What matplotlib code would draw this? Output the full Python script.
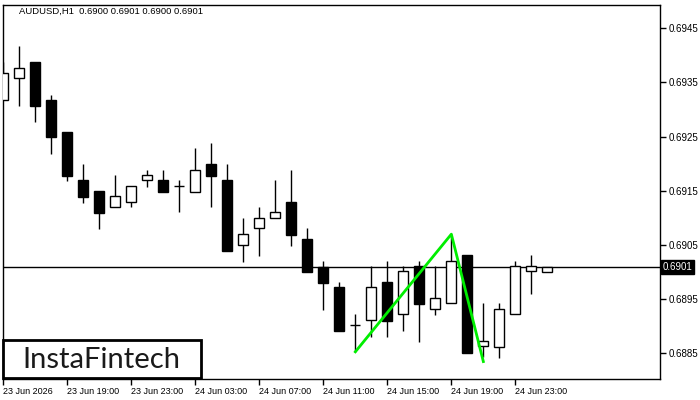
import matplotlib
matplotlib.use("Agg")
import matplotlib.pyplot as plt
from matplotlib.patches import Rectangle

# ____________________ data ____________________ #

# hourly candles, starting 23 Jun 15:00
opens = [0.69318, 0.69358, 0.69388, 0.69318, 0.69259, 0.69170, 0.69150, 0.69120,
         0.69129, 0.69170, 0.69170, 0.69159, 0.69148, 0.69199, 0.69170, 0.69050,
         0.69081, 0.69100, 0.69129, 0.69061, 0.69009, 0.68973, 0.68902, 0.68912,
         0.68982, 0.68923, 0.69011, 0.68932, 0.68943, 0.69032, 0.68864, 0.68862,
         0.68923, 0.69002, 0.69000]
highs = [0.69388, 0.69417, 0.69388, 0.69327, 0.69259, 0.69199, 0.69150, 0.69179,
         0.69159, 0.69188, 0.69188, 0.69170, 0.69229, 0.69238, 0.69199, 0.69100,
         0.69120, 0.69170, 0.69188, 0.69081, 0.69020, 0.68982, 0.68923, 0.69011,
         0.69020, 0.69011, 0.69020, 0.69011, 0.69070, 0.69032, 0.68943, 0.68943,
         0.69020, 0.69032, 0.69010]
lows = [0.69318, 0.69306, 0.69277, 0.69218, 0.69168, 0.69128, 0.69080, 0.69120,
        0.69120, 0.69157, 0.69148, 0.69111, 0.69148, 0.69120, 0.69039, 0.69019,
        0.69030, 0.69100, 0.69048, 0.69000, 0.68930, 0.68891, 0.68853, 0.68880,
        0.68880, 0.68891, 0.68871, 0.68921, 0.68943, 0.68851, 0.68843, 0.68842,
        0.68923, 0.68960, 0.69000]
closes = [0.69367, 0.69377, 0.69306, 0.69249, 0.69177, 0.69139, 0.69109, 0.69140,
          0.69159, 0.69179, 0.69148, 0.69159, 0.69188, 0.69177, 0.69039, 0.69070,
          0.69100, 0.69111, 0.69069, 0.69000, 0.68980, 0.68891, 0.68902, 0.68973,
          0.68910, 0.69002, 0.68941, 0.68952, 0.69020, 0.68851, 0.68873, 0.68932,
          0.69011, 0.69011, 0.69010]

tick_idx = [0, 4, 8, 12, 16, 20, 24, 28, 32]
tick_labels = ["23 Jun 2026", "23 Jun 19:00", "23 Jun 23:00", "24 Jun 03:00",
               "24 Jun 07:00", "24 Jun 11:00", "24 Jun 15:00", "24 Jun 19:00",
               "24 Jun 23:00"]
price_ticks = [0.6885, 0.6895, 0.6905, 0.6915, 0.6925, 0.6935, 0.6945]

# double bottom pattern (low - high - low)
pattern_idx = [22, 28, 30]
pattern_price = [0.68853, 0.69070, 0.68835]

current_price = 0.6901
title = "AUDUSD,H1  0.6900 0.6901 0.6900 0.6901"

# ____________________ plot ____________________ #

plt.rcParams['font.family'] = ['Liberation Sans', 'DejaVu Sans']

fig = plt.figure(figsize=(7, 4), dpi=100)
ax = fig.add_axes([2.5 / 700, 21 / 400, 657.5 / 700, 374 / 400])

xs = list(range(len(opens)))
width = 0.62

# wicks
ax.vlines(xs, lows, highs, color="black", linewidth=1, zorder=2)

# bodies
for x, o, c in zip(xs, opens, closes):
    if abs(c - o) < 1e-6:
        ax.hlines(o, x - width / 2, x + width / 2, color="black", linewidth=1, zorder=3)
    elif c > o:
        ax.bar(x, c - o, bottom=o, width=width, color="white",
               edgecolor="black", linewidth=1, zorder=3)
    else:
        ax.bar(x, o - c, bottom=c, width=width, color="black",
               edgecolor="black", linewidth=1, zorder=3)

# current price line
ax.axhline(current_price, color="black", linewidth=1, zorder=1)

# pattern
ax.plot(pattern_idx, pattern_price, color="#00ee00", linewidth=2, zorder=5)

ax.set_xlim(-0.05, 41.04)
ax.set_ylim(0.688028, 0.694928)

ax.set_xticks(tick_idx)
ax.set_xticklabels(tick_labels, fontsize=6.5, ha="left")
ax.yaxis.tick_right()
ax.set_yticks(price_ticks)
ax.set_yticklabels([f"{p:.4f}" for p in price_ticks], fontsize=7)
ax.tick_params(axis="both", length=4, width=1, color="black", pad=2)
for s in ax.spines.values():
    s.set_linewidth(1)

# current price tag
ax.text(1.004, current_price, f"{current_price:.4f}", transform=ax.get_yaxis_transform(),
        fontsize=7, color="white", va="center", ha="left",
        bbox=dict(boxstyle="square,pad=0.2", fc="black", ec="black"))

# header
fig.text(19 / 700, 1 - 11 / 400, title, fontsize=6.8, color="black", va="center", ha="left")

# logo
fig.add_artist(Rectangle((3 / 700, 22 / 400), 198 / 700, 38 / 400, transform=fig.transFigure,
                         fc="white", ec="black", lw=2, zorder=6))
fig.text(101 / 700, 1 - 360 / 400, "InstaFintech", fontsize=21, family="Lato",
         color="#1a1a1a", va="center", ha="center", zorder=7)

fig.savefig("out.png", dpi=100, facecolor="white")
